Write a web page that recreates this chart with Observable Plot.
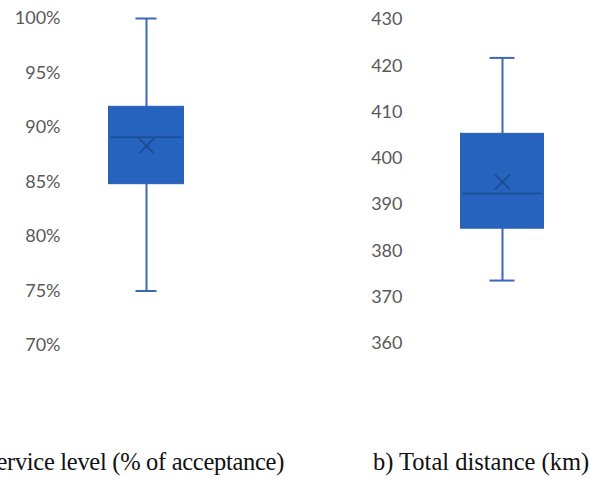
<!DOCTYPE html>
<html>
<head>
<meta charset="utf-8">
<script src="https://cdn.jsdelivr.net/npm/d3@7"></script>
<script src="https://cdn.jsdelivr.net/npm/@observablehq/plot@0.6"></script>
<style>
  html, body { margin: 0; padding: 0; background: #fff; width: 590px; height: 479px; overflow: hidden; position: relative; }
  .panel { position: absolute; top: 0; }
  .cap { position: absolute; font-family: "Liberation Serif", "DejaVu Serif", serif; font-size: 24.5px; line-height: 24.5px; color: #111; white-space: nowrap; }
</style>
</head>
<body>
<div id="pa" class="panel" style="left:0px"></div>
<div id="pb" class="panel" style="left:295px"></div>
<div class="cap" style="right:306px; top:450px; text-align:right; letter-spacing:-0.3px">a) Service level (% of acceptance)</div>
<div class="cap" style="left:373px; top:450px">b) Total distance (km)</div>
<script>
// Data
const panels = ["a", "b"];
const mins    = [75.0, 373.6];
const q1s     = [84.8, 384.8];
const medians = [89.1, 392.4];
const q3s     = [91.9, 405.3];
const maxs    = [100.0, 421.7];
const means   = [88.3, 394.9];
const ticksA = [70, 75, 80, 85, 90, 95, 100];
const ticksB = [360, 370, 380, 390, 400, 410, 420, 430];

const rows = panels.map((p, i) => ({
  panel: p, min: mins[i], q1: q1s[i], median: medians[i], q3: q3s[i], max: maxs[i], mean: means[i]
}));

const boxFill = "#2563bf";
const whisker = "#3b67b7";
const dark = "#1d4b92";

function panelPlot(row, opts) {
  const d = [row];
  return Plot.plot({
    width: opts.width,
    height: 360,
    marginLeft: opts.marginLeft,
    marginRight: opts.marginRight,
    marginTop: opts.marginTop,
    marginBottom: opts.marginBottom,
    style: { background: "transparent", fontFamily: "Lato, 'Open Sans', sans-serif", fontSize: "18px", color: "#595959" },
    x: { domain: [row.panel], axis: null, padding: 0 },
    y: { domain: opts.domain, ticks: opts.ticks, tickFormat: opts.fmt, tickSize: 0, tickPadding: opts.tickPadding, label: null, line: false },
    marks: [
      Plot.ruleX(d, { x: "panel", y1: "min", y2: "q1", stroke: whisker, strokeWidth: 2 }),
      Plot.ruleX(d, { x: "panel", y1: "q3", y2: "max", stroke: whisker, strokeWidth: 2 }),
      Plot.tickY(d, { x: "panel", y: "min", stroke: whisker, strokeWidth: 2, insetLeft: opts.capInset, insetRight: opts.capInset }),
      Plot.tickY(d, { x: "panel", y: "max", stroke: whisker, strokeWidth: 2, insetLeft: opts.capInset, insetRight: opts.capInset }),
      Plot.barY(d, { x: "panel", y1: "q1", y2: "q3", fill: boxFill, stroke: "#2d5fb0", strokeWidth: 1, insetLeft: opts.boxInset, insetRight: opts.boxInset }),
      Plot.tickY(d, { x: "panel", y: "median", stroke: dark, strokeWidth: 1.6, insetLeft: opts.boxInset + 2, insetRight: opts.boxInset + 2 }),
      Plot.dot(d, { x: "panel", y: "mean", symbol: "times", r: 7, stroke: dark, strokeWidth: 1.7 })
    ]
  });
}

document.getElementById("pa").appendChild(panelPlot(rows[0], {
  width: 295, marginLeft: 66, marginRight: 69, marginTop: 18, marginBottom: 15,
  domain: [70, 100], ticks: ticksA, fmt: d => d + "%", tickPadding: 6,
  boxInset: 42.5, capInset: 69.5
}));
document.getElementById("pb").appendChild(panelPlot(rows[1], {
  width: 295, marginLeft: 129, marginRight: 10, marginTop: 19, marginBottom: 17,
  domain: [360, 430], ticks: ticksB, fmt: d => String(d), tickPadding: 22,
  boxInset: 36.5, capInset: 65.5
}));
</script>
</body>
</html>
